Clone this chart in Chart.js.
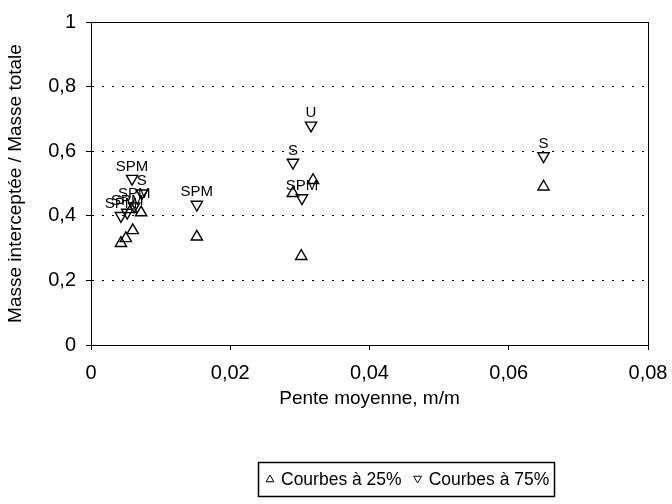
<!DOCTYPE html>
<html><head><meta charset="utf-8">
<script src="https://cdn.jsdelivr.net/npm/chart.js@4/dist/chart.umd.min.js"></script>
<style>html,body{margin:0;padding:0;background:#fff}</style></head>
<body>
<canvas id="c" width="672" height="504"></canvas>
<script>
// Data
const pente25 = [0.0043, 0.0050, 0.0060, 0.0058, 0.0072, 0.0152, 0.0290, 0.0302, 0.0319, 0.0650];
const masse25 = [0.315, 0.330, 0.355, 0.420, 0.410, 0.335, 0.470, 0.275, 0.510, 0.490];
const pente75 = [0.0059, 0.0073, 0.0043, 0.0052, 0.0062, 0.0152, 0.0290, 0.0303, 0.0316, 0.0650];
const masse75 = [0.515, 0.470, 0.400, 0.410, 0.430, 0.435, 0.565, 0.455, 0.680, 0.585];
const etiquettes75 = ["SPM", "S", "SPM", "SPM", "SPM", "SPM", "S", "SPM", "U", "S"];
const xTicks = [0, 0.02, 0.04, 0.06, 0.08];
const yTicks = [0, 0.2, 0.4, 0.6, 0.8, 1];
const seriesNames = ["Courbes à 25%", "Courbes à 75%"];
const xTitle = "Pente moyenne, m/m";
const yTitle = "Masse interceptée / Masse totale";

const FONT = "'Liberation Sans', Arial, sans-serif";
const fmt = v => (Math.abs(v) < 1e-9 ? "0" : (Math.abs(v - 1) < 1e-9 ? "1" : String(+v.toFixed(2)).replace('.', ',')));
const toPts = (xs, ys) => xs.map((x, i) => ({x: x, y: ys[i]}));

const boxPlugin = {
  id: 'boxPlugin',
  beforeDatasetsDraw(chart) {
    const a = chart.chartArea, ctx = chart.ctx;
    ctx.save();
    ctx.strokeStyle = '#000';
    ctx.lineWidth = 1;
    ctx.strokeRect(Math.round(a.left) + 0.5, Math.round(a.top) + 0.5, Math.round(a.right - a.left), Math.round(a.bottom - a.top));
    ctx.restore();
  }
};

const labelPlugin = {
  id: 'labelPlugin',
  afterDatasetsDraw(chart) {
    const ctx = chart.ctx;
    chart.data.datasets.forEach((ds, di) => {
      if (!ds.pointLabels) return;
      const meta = chart.getDatasetMeta(di);
      ctx.save();
      ctx.fillStyle = '#000';
      ctx.font = '15px ' + FONT;
      ctx.textAlign = 'center';
      ctx.textBaseline = 'alphabetic';
      meta.data.forEach((el, i) => {
        ctx.fillText(ds.pointLabels[i], el.x, el.y - 8);
      });
      ctx.restore();
    });
  }
};

function drawTri(ctx, cx, cy, r, down) {
  const s = down ? -1 : 1;
  ctx.beginPath();
  ctx.moveTo(cx, cy - s * r);
  ctx.lineTo(cx + r * 0.87, cy + s * r * 0.5);
  ctx.lineTo(cx - r * 0.87, cy + s * r * 0.5);
  ctx.closePath();
  ctx.stroke();
}

const customLegend = {
  id: 'customLegend',
  afterDraw(chart) {
    const ctx = chart.ctx;
    ctx.save();
    ctx.font = '17.5px ' + FONT;
    ctx.fillStyle = '#000';
    ctx.strokeStyle = '#000';
    const left = 258, top = 462, h = 34;
    let x = left + 12;
    const cy = top + h / 2;
    const w0 = ctx.measureText(seriesNames[0]).width;
    const w1 = ctx.measureText(seriesNames[1]).width;
    ctx.lineWidth = 1;
    drawTri(ctx, x, cy + 0.5, 4.5, false);
    x += 11;
    ctx.textBaseline = 'middle';
    ctx.textAlign = 'left';
    ctx.fillText(seriesNames[0], x, cy + 1);
    x += w0 + 16;
    drawTri(ctx, x, cy - 0.5, 4.5, true);
    x += 11;
    ctx.fillText(seriesNames[1], x, cy + 1);
    x += w1 + 5;
    ctx.lineWidth = 1.5;
    ctx.strokeRect(left + 0.5, top + 0.5, Math.round(x - left), h);
    ctx.restore();
  }
};

new Chart(document.getElementById('c'), {
  type: 'scatter',
  data: {
    datasets: [
      {
        label: seriesNames[0],
        data: toPts(pente25, masse25),
        pointStyle: 'triangle',
        rotation: 0,
        radius: 6.5,
        borderColor: '#000',
        backgroundColor: 'rgba(0,0,0,0)',
        borderWidth: 1.4
      },
      {
        label: seriesNames[1],
        data: toPts(pente75, masse75),
        pointLabels: etiquettes75,
        pointStyle: 'triangle',
        rotation: 180,
        radius: 6.5,
        borderColor: '#000',
        backgroundColor: 'rgba(0,0,0,0)',
        borderWidth: 1.4
      }
    ]
  },
  options: {
    responsive: false,
    animation: false,
    layout: {padding: {left: 0, right: 24, top: 22, bottom: 90}},
    plugins: {
      tooltip: {enabled: false},
      legend: {display: false}
    },
    scales: {
      x: {
        type: 'linear',
        min: 0, max: 0.08,
        afterBuildTicks(scale) { scale.ticks = xTicks.map(v => ({value: v})); },
        afterFit(scale) { scale.height = 69; scale.paddingLeft = 0; scale.paddingRight = 0; },
        ticks: {
          color: '#000',
          font: {size: 20, family: FONT},
          padding: 11,
          maxRotation: 0,
          callback: v => fmt(v)
        },
        grid: {display: true, drawOnChartArea: false, drawTicks: true, tickLength: 5, color: '#000'},
        border: {display: true, color: '#000', width: 1},
        title: {display: true, text: xTitle, color: '#000', font: {size: 19, family: FONT}, padding: {top: 6, bottom: 4}}
      },
      y: {
        type: 'linear',
        min: 0, max: 1,
        afterBuildTicks(scale) { scale.ticks = yTicks.map(v => ({value: v})); },
        afterFit(scale) { scale.width = 91; scale.paddingTop = 0; scale.paddingBottom = 0; },
        ticks: {
          color: '#000',
          font: {size: 20, family: FONT},
          padding: 10,
          callback: v => fmt(v)
        },
        grid: {
          display: true,
          drawOnChartArea: true,
          tickLength: 5,
          color: '#000',
          lineWidth: 1,
          borderDash: [2, 8],
          tickBorderDash: [0, 0]
        },
        border: {display: true, color: '#000', width: 1, dash: [2, 8]},
        title: {display: true, text: yTitle, color: '#000', font: {size: 19, family: FONT}, padding: {bottom: 2}}
      }
    }
  },
  plugins: [boxPlugin, labelPlugin, customLegend]
});
</script>
</body></html>
